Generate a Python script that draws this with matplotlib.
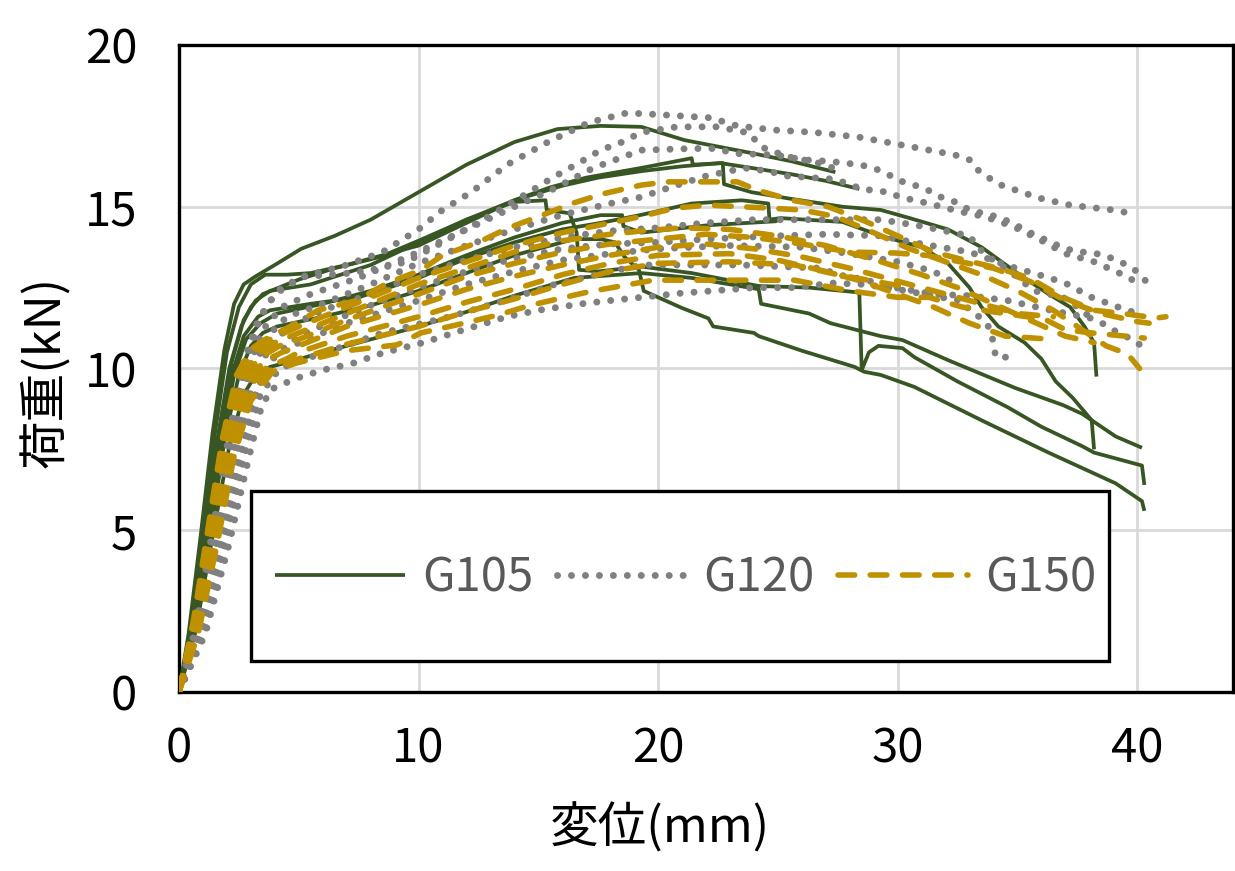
import matplotlib
matplotlib.use("Agg")
import matplotlib.pyplot as plt
from matplotlib import font_manager
from matplotlib.patches import Rectangle
from matplotlib.lines import Line2D

# ---------------- data (displacement mm, load kN) ----------------
series_names = ["G105", "G120", "G150"]
x_ticks = [0, 10, 20, 30, 40]
y_ticks = [0, 5, 10, 15, 20]
x_label = "変位(mm)"
y_label = "荷重(kN)"

G105_curves = [
    [(0,0),(0.4,1.8),(0.9,4.8),(1.4,8.0),(1.9,10.6),(2.3,12.0),(2.7,12.6),(3.2,12.85),(4.0,13.2),(5.1,13.7),(6.5,14.1),(8,14.6),(10,15.45),(12,16.3),(14,17.0),(15.8,17.4),(17.6,17.5),(19.3,17.47),(21.1,17.06),(23.9,16.66),(25.6,16.4),(27.4,16.07)],
    [(0,0),(0.5,2.0),(1.0,5.0),(1.5,8.0),(2.0,10.5),(2.5,11.9),(3.0,12.6),(3.6,12.9),(4.5,12.9),(5.5,12.95),(7,13.2),(8.5,13.5),(10,13.8),(12,14.5),(14,15.2),(15.5,15.6),(17,15.9),(19.3,16.2),(21.4,16.5),(21.45,16.3),(22.7,16.35),(22.75,15.7),(23.9,15.45),(25.5,15.25),(27.7,15.0),(29.3,14.9),(30.5,14.65),(32.1,14.3),(33.5,13.75),(34.9,13.0),(36.3,12.3),(37.2,11.9),(37.8,11.3),(38.2,10.8),(38.3,9.75)],
    [(0,0),(0.6,2.2),(1.1,5.0),(1.6,7.8),(2.1,10.0),(2.6,11.3),(3.0,11.9),(3.5,12.3),(5,12.75),(6.5,13.1),(8.4,13.45),(10,13.95),(12,14.6),(14,15.2),(16,15.65),(17.5,15.9),(19.3,16.1),(21,16.25),(22.6,16.35),(23.9,16.2),(25.6,16.0),(27,15.8),(28.4,15.55)],
    [(0,0),(0.6,2.0),(1.2,5.0),(1.7,7.8),(2.2,9.8),(2.7,11.0),(3.3,11.6),(3.8,11.8),(5.5,12.0),(7.5,12.2),(10,12.8),(12,13.4),(14,13.9),(16,14.3),(17.6,14.5),(19.3,14.75),(21.4,15.1),(23.5,15.2),(24.6,15.1),(24.65,14.6),(25.1,14.65),(27.7,14.53),(29.3,14.1),(31.0,13.75),(32.1,13.25),(33.0,12.5),(33.5,11.9),(34.2,11.3),(35.3,10.8),(36.0,10.3),(36.6,9.6),(37.3,9.1),(38.1,8.4),(38.2,7.5)],
    [(0,0),(0.6,1.9),(1.2,4.8),(1.8,7.8),(2.3,9.8),(2.8,10.9),(3.4,11.4),(4.1,11.7),(6,12.0),(8,12.4),(10,12.9),(12,13.5),(14,14.05),(16,14.5),(17.6,14.74),(18.5,14.74),(18.55,14.4),(19.3,14.2),(22.1,14.43),(24.9,14.55),(25.2,14.65)],
    [(0,0),(0.5,1.8),(1.1,4.8),(1.7,7.9),(2.2,10.2),(2.7,11.5),(3.2,12.1),(3.8,12.4),(5.5,12.6),(8,13.2),(10,13.9),(12,14.6),(14,15.15),(15.3,15.2),(15.35,14.9),(16.3,14.8),(16.6,14.2),(16.7,13.05),(17.5,13.0),(19.3,13.15),(21.4,12.95),(24.2,12.55),(26.3,12.5),(28.4,12.35),(28.5,9.95),(28.8,10.5),(29.2,10.7),(30.2,10.63),(30.7,10.35),(32.5,9.6),(34.6,8.8),(36,8.2),(37.7,7.6),(38.2,7.4),(40.2,7.0),(40.3,6.4)],
    [(0,0),(0.7,1.9),(1.4,4.8),(2.1,7.6),(2.7,9.2),(3.2,9.8),(3.8,10.05),(4.6,10.2),(6,10.5),(8,10.9),(10,11.3),(12,11.75),(14,12.25),(16.5,12.8),(19.3,12.95),(21.4,12.8),(24.2,12.45),(24.3,12.0),(26.3,11.7),(27.2,11.4),(29.3,11.0),(30.2,10.88),(32.1,10.26),(34.9,9.4),(36.9,8.87),(37.7,8.6),(38.1,8.4),(39.1,7.9),(40.2,7.55)],
    [(0,0),(0.6,1.8),(1.3,4.8),(1.9,7.8),(2.5,9.8),(3.0,10.7),(3.5,11.1),(4.1,11.3),(6,11.6),(8,11.95),(10,12.4),(12,12.95),(14,13.5),(16.5,14.0),(17.6,14.0),(18.2,13.9),(18.6,13.45),(19.2,13.05),(19.4,12.4),(20,12.2),(21,11.87),(22.1,11.55),(22.3,11.3),(24.0,11.1),(24.2,11.0),(26,10.55),(28.2,10.05),(28.6,9.9),(29.3,9.8),(30.7,9.43),(33.5,8.4),(36.3,7.4),(39.1,6.45),(40.2,5.9),(40.3,5.6)],
]

G120_curves = [
    [(0,0),(0.7,2.0),(1.4,5.0),(2.1,8.0),(2.7,10.2),(3.3,11.5),(4.0,12.3),(5.2,12.85),(7.0,13.2),(8.5,13.6),(10,14.3),(11.0,14.9),(12.2,15.45),(13.7,16.3),(15.4,17.0),(17.1,17.6),(18.7,17.9),(20.0,17.85),(22.2,17.75),(23.3,17.5),(24.9,17.37),(26.5,17.3),(28.4,17.15),(30.6,16.85),(32.4,16.6),(33.0,16.45),(33.4,16.1),(34.2,15.7),(35.9,15.27),(37.2,15.05),(39.0,14.9),(39.7,14.8)],
    [(0,0),(0.8,2.0),(1.5,5.0),(2.2,8.0),(2.8,10.2),(3.4,11.6),(4.1,12.4),(5.1,12.83),(6.3,12.9),(7.2,12.95),(8.4,13.1),(9.5,13.3),(11,13.9),(12.7,14.6),(14.5,15.4),(15.6,15.9),(16.8,16.4),(17.6,16.75),(18.5,17.0),(19.3,17.3),(20.8,17.47),(22.5,17.47),(23.8,17.28),(24.3,16.85),(25.4,16.55),(26.7,16.35),(27.7,16.1)],
    [(0,0),(0.8,1.9),(1.6,4.9),(2.3,7.9),(2.9,10.0),(3.5,11.2),(4.3,11.9),(5.5,12.3),(7.5,12.8),(10,13.6),(12,14.3),(14,15.0),(15.5,15.5),(17.3,16.2),(19.3,16.75),(21.5,16.8),(22.5,16.8),(23.1,16.65),(24.9,16.6),(26.1,16.45),(27.2,16.4),(28.4,16.3),(29.0,16.2),(29.6,16.0),(30.1,15.8),(30.7,15.67),(31.3,15.5),(31.8,15.3),(32.4,15.15),(33.0,14.9),(34.1,14.7),(34.8,14.5),(35.3,14.28),(35.9,14.07),(36.4,13.9),(37.0,13.7),(37.7,13.6),(38.2,13.57),(38.8,13.45),(39.4,13.26),(39.9,13.05),(40.5,12.6)],
    [(0,0),(0.9,2.0),(1.7,5.0),(2.4,7.8),(3.0,9.8),(3.7,11.0),(4.5,11.6),(6,12.0),(8,12.6),(10,13.25),(12,13.8),(14,14.3),(16,14.75),(18,15.1),(19.3,15.3),(20.5,15.6),(22,15.95),(23.6,16.2),(24.6,16.1),(25.4,15.95),(27.4,15.85),(28.5,15.55),(29.6,15.45),(30.1,15.3),(31.3,15.1),(32.6,14.85),(33.6,14.7),(34.8,14.4),(35.9,14.0),(37.0,13.55),(38.2,13.3),(39.4,12.9),(39.9,12.7)],
    [(0,0),(0.9,1.9),(1.8,4.9),(2.5,7.7),(3.1,9.6),(3.8,10.7),(4.6,11.3),(6,11.8),(8,12.3),(10,12.9),(12,13.35),(14,13.75),(16,14.05),(18,14.25),(20,14.35),(22,14.5),(24,14.6),(26,14.6),(28,14.6),(29.3,14.6),(31,14.4),(33,14.1),(33.4,13.7),(33.9,13.4),(34.6,13.05),(35.2,12.7),(35.7,12.4),(36.9,12.2),(37.4,11.96),(38.1,11.55)],
    [(0,0),(1.0,1.9),(1.9,4.8),(2.7,7.6),(3.3,9.4),(4.0,10.4),(5,11.0),(6.5,11.5),(8,11.95),(10,12.5),(12,13.0),(14,13.4),(16,13.7),(18,13.85),(20,13.9),(22,14.0),(25,14.1),(27,14.15),(29.3,14.1),(31,13.85),(33,13.6),(34.5,13.2),(36.2,12.83),(37.0,12.64),(38.1,12.2),(39.2,11.9),(39.8,11.75)],
    [(0,0),(0.9,1.8),(1.8,4.7),(2.6,7.5),(3.2,9.3),(3.9,10.3),(5,10.8),(7,11.4),(10,12.1),(12,12.6),(14,13.0),(16,13.35),(18,13.55),(20,13.7),(23,13.8),(26,13.75),(28,13.55),(30,13.3),(31.5,13.0),(32.5,12.6)],
    [(0,0),(1.1,1.9),(2.0,4.8),(2.8,7.5),(3.4,9.2),(4.2,10.0),(5.5,10.35),(6.6,10.62),(8.5,11.1),(11.3,11.6),(13.6,12.1),(15.6,12.58),(17.7,12.95),(19.3,13.2),(23.5,13.2),(26.8,13.1),(27.5,12.9),(28.6,12.75),(29.9,12.5),(31.5,12.3),(33,12.25),(34.6,12.1),(36.4,11.8),(38.1,11.55),(38.7,11.34),(39.2,11.1),(39.8,10.9),(40.3,10.63)],
    [(0,0),(1.1,1.8),(2.1,4.6),(2.9,7.2),(3.4,8.7),(3.8,9.34),(4.9,9.7),(6.0,9.95),(7.3,10.17),(8.5,10.48),(10.2,10.8),(11.9,11.2),(13.7,11.6),(15.0,11.8),(16.8,12.0),(18.0,12.1),(19.3,12.2),(21.0,12.33),(22.8,12.43),(24.0,12.5),(25.7,12.5),(27.3,12.64),(28.6,12.6),(30,12.45),(31.8,12.2),(32.7,12.1),(33.0,11.8),(33.5,11.55),(33.9,11.2),(34.0,10.73),(34.1,10.35),(34.6,10.35)],
]

G150_curves = [
    [(0,0),(0.6,2.2),(1.2,5.0),(1.8,7.8),(2.4,9.8),(3.0,10.6),(3.6,10.9),(4.9,11.4),(5.8,11.8),(7.4,12.1),(8.7,12.64),(10.1,13.04),(11.0,13.5),(12.5,13.9),(13.7,14.33),(15.2,14.75),(16.4,15.1),(17.7,15.4),(19.3,15.67),(20.4,15.77),(23.3,15.77),(24.2,15.5),(25.6,15.2),(27.1,15.0),(28.5,14.6),(30,14.1),(31.5,13.6),(32.8,13.35),(34.2,13.1),(35.5,12.8),(36.9,12.2),(38.2,11.8),(39.4,11.7),(40.8,11.56),(41.2,11.6)],
    [(0,0),(0.6,2.1),(1.2,4.9),(1.8,7.7),(2.4,9.7),(3.1,10.5),(3.8,10.9),(5,11.3),(7,11.9),(10,12.8),(12,13.3),(14,13.8),(16,14.2),(18,14.5),(19.3,14.7),(20.7,14.96),(22.1,15.05),(24.6,14.96),(26,14.9),(27.4,14.7),(29,14.2),(30.5,13.7),(32,13.3),(33.5,12.9),(35,12.4),(36.5,11.8),(37.7,11.2),(38.7,10.7),(39.6,10.45),(40.1,10.0)],
    [(0,0),(0.7,2.1),(1.3,4.9),(1.9,7.7),(2.5,9.6),(3.2,10.4),(4.0,10.8),(5,11.1),(7,11.7),(10,12.6),(12,13.1),(14,13.6),(16,13.95),(18,14.15),(19.3,14.25),(21,14.35),(23,14.3),(25,14.1),(27,13.8),(29.3,13.3),(31,12.9),(32.5,12.5),(34,12.0),(35.5,11.5),(37,11.0),(38.2,10.8)],
    [(0,0),(0.7,2.0),(1.3,4.8),(1.9,7.6),(2.6,9.5),(3.3,10.3),(4.2,10.7),(5,10.9),(7,11.5),(10,12.3),(12,12.85),(14,13.25),(16,13.6),(18,13.85),(20,14.0),(22,14.15),(24,14.05),(26,13.85),(28,13.6),(29.9,13.57),(31.2,13.5),(32.6,13.3),(34,13.1),(35.5,12.7),(37,12.1),(38.5,11.7),(40,11.45),(40.5,11.4)],
    [(0,0),(0.7,2.0),(1.4,4.8),(2.0,7.6),(2.7,9.4),(3.5,10.2),(4.3,10.5),(5,10.7),(7,11.3),(10,11.96),(12,12.45),(14,12.85),(16,13.2),(18,13.5),(20,13.75),(22,13.85),(24,13.7),(26,13.45),(28,13.1),(30,12.7),(32,12.3),(33.5,12.0),(35,11.7),(36.5,11.6)],
    [(0,0),(0.8,1.9),(1.5,4.7),(2.1,7.5),(2.8,9.3),(3.6,10.0),(4.5,10.3),(5,10.5),(7,11.0),(10,11.6),(12,12.05),(14,12.45),(16,12.9),(18,13.25),(20,13.5),(23,13.55),(25,13.35),(27,13.0),(28.5,12.7),(30,12.3),(31.5,11.9),(33,11.4),(34.5,11.0),(36.5,10.9)],
    [(0,0),(0.8,1.9),(1.5,4.6),(2.2,7.4),(2.9,9.1),(3.7,9.9),(4.6,10.2),(5,10.3),(7,10.75),(10,11.3),(12,11.75),(14,12.15),(16,12.6),(18,13.0),(20,13.25),(23,13.3),(25.7,13.2),(27.5,12.9),(29,12.7),(30.5,12.5)],
    [(0,0),(0.8,1.8),(1.6,4.6),(2.3,7.3),(3.0,9.0),(3.9,9.9),(4.9,10.17),(7,10.55),(9.1,10.73),(10.1,11.1),(11.6,11.35),(13.3,11.65),(14.7,11.96),(17.1,12.37),(19.8,12.73),(25.7,12.73),(28,12.4),(30,12.2),(31.3,12.2),(32.7,11.9),(34,11.75),(35.6,11.58),(36.2,11.5),(37,11.2),(38.1,11.1),(39.5,11.0),(40.3,10.94)],
]

# ---------------- fonts ----------------
available = {f.name for f in font_manager.fontManager.ttflist}
num_font = "Liberation Sans Narrow" if "Liberation Sans Narrow" in available else "Noto Sans CJK JP"
num_size = 36 if num_font == "Liberation Sans Narrow" else 34
plt.rcParams["font.family"] = ["Noto Sans CJK JP", "DejaVu Sans"]

# ---------------- figure ----------------
fig = plt.figure(figsize=(12.35, 8.71), dpi=100)
ax = fig.add_axes([179 / 1235, 1 - 692 / 871, (1233 - 179) / 1235, (692 - 45) / 871])

green = "#375623"
grey = "#808080"
gold = "#bf9000"
styles = [
    dict(color=green, lw=2.7, linestyle="-", solid_capstyle="butt"),
    dict(color=grey, lw=5.0, linestyle=(0, (0.01, 2.0)), dash_capstyle="round"),
    dict(color=gold, lw=4.0, linestyle=(0, (3.0, 2.8)), dash_capstyle="round"),
]

for curves, st in zip([G105_curves, G120_curves, G150_curves], styles):
    for c in curves:
        xs = [p[0] for p in c]
        ys = [p[1] for p in c]
        ax.plot(xs, ys, zorder=3, **st)

ax.set_xlim(0, 44)
ax.set_ylim(0, 20)
ax.set_xticks(x_ticks)
ax.set_yticks(y_ticks)
ax.grid(True, color="#d9d9d9", lw=2.0, zorder=0)
ax.set_axisbelow(True)
for s in ax.spines.values():
    s.set_linewidth(2.4)
    s.set_color("black")
ax.tick_params(length=0, pad=0)
ax.tick_params(axis="y", pad=30)
ax.tick_params(axis="x", pad=24)
for lab in ax.get_xticklabels() + ax.get_yticklabels():
    lab.set_fontfamily(num_font)
    lab.set_fontsize(num_size)
    lab.set_color("black")

fig.text(46 / 1235, 1 - 372 / 871, y_label, rotation=90, ha="center", va="center",
         fontsize=35, family=["Noto Sans CJK JP"])
fig.text(660 / 1235, 1 - 828 / 871, x_label, ha="center", va="center",
         fontsize=35, family=["Noto Sans CJK JP"])

# legend box
rect = Rectangle((3.01, 0.96), 35.8, 5.25, transform=ax.transData, facecolor="white",
                 edgecolor="black", lw=2.4, zorder=6)
ax.add_patch(rect)
handles = [Line2D([], [], **st) for st in styles]
leg = ax.legend(handles, series_names, ncol=3, frameon=False,
                loc="center left", bbox_to_anchor=((275 - 179) / 1054, (692 - 578) / 647),
                borderpad=0, borderaxespad=0, handlelength=2.75, handletextpad=0.36,
                columnspacing=0.5, prop={"family": num_font, "size": num_size})
leg.set_zorder(7)
for t in leg.get_texts():
    t.set_color("#595959")

fig.savefig("out.png", dpi=100)
